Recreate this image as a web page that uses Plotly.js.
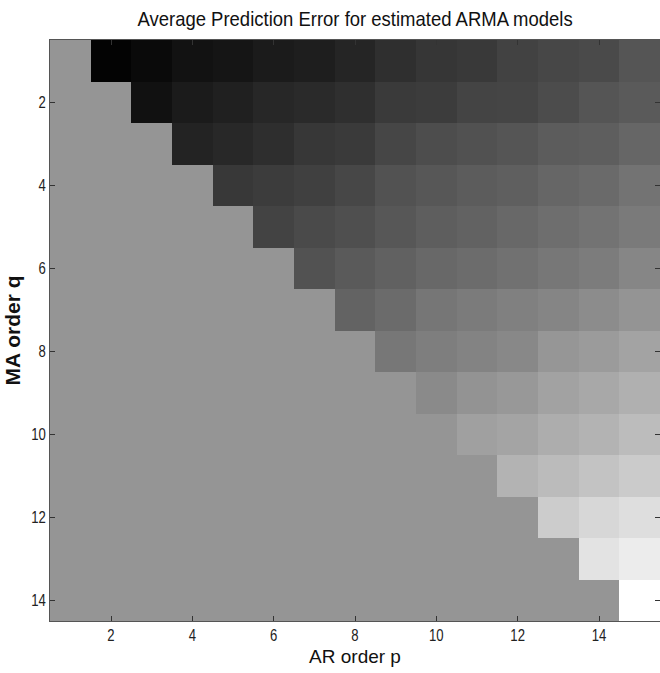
<!DOCTYPE html>
<html>
<head>
<meta charset="utf-8">
<script src="https://cdn.plot.ly/plotly-3.0.1.min.js"></script>
<style>html,body{margin:0;padding:0;overflow:hidden;background:#fff}</style>
</head>
<body>
<div id="chart" style="width:660px;height:673px"></div>
<script>
// AR order p (columns) and MA order q (rows)
const arOrders = [1,2,3,4,5,6,7,8,9,10,11,12,13,14,15];
const maOrders = [1,2,3,4,5,6,7,8,9,10,11,12,13,14];
// Average prediction error (shown as grey level, 0 = black, 255 = white); null = not estimated (p <= q)
const q1  = [null,  3, 10, 18, 21, 27, 30, 37, 47, 54, 57, 66, 71, 74, 85];
const q2  = [null,null, 17, 27, 32, 39, 42, 47, 58, 60, 68, 69, 76, 85, 90];
const q3  = [null,null,null, 35, 40, 46, 55, 58, 70, 77, 81, 85, 92, 94,102];
const q4  = [null,null,null,null, 56, 60, 64, 71, 82, 87, 92, 95,102,106,115];
const q5  = [null,null,null,null,null, 67, 74, 79, 87, 94, 98,104,110,115,122];
const q6  = [null,null,null,null,null,null, 82, 90, 97,104,108,113,119,124,134];
const q7  = [null,null,null,null,null,null,null, 99,107,118,123,128,133,140,148];
const q8  = [null,null,null,null,null,null,null,null,119,126,131,136,150,155,163];
const q9  = [null,null,null,null,null,null,null,null,null,138,147,152,162,168,176];
const q10 = [null,null,null,null,null,null,null,null,null,null,160,164,173,179,188];
const q11 = [null,null,null,null,null,null,null,null,null,null,null,179,187,195,203];
const q12 = [null,null,null,null,null,null,null,null,null,null,null,null,204,215,222];
const q13 = [null,null,null,null,null,null,null,null,null,null,null,null,null,227,236];
const q14 = [null,null,null,null,null,null,null,null,null,null,null,null,null,null,255];
const tickVals = [2,4,6,8,10,12,14];

const zRows = [q1,q2,q3,q4,q5,q6,q7,q8,q9,q10,q11,q12,q13,q14];

const sans = 'Arial, "Liberation Sans", sans-serif';

const trace = {
  type: 'heatmap',
  x: arOrders,
  y: maOrders,
  z: zRows,
  zmin: 0,
  zmax: 255,
  colorscale: [[0,'#000000'],[1,'#ffffff']],
  showscale: false,
  hoverongaps: false
};

const axisCommon = {
  ticks: 'inside',
  ticklen: 5,
  tickwidth: 1,
  tickcolor: '#333',
  showline: true,
  linecolor: '#555',
  linewidth: 1,
  mirror: 'ticks',
  showgrid: false,
  zeroline: false,
  tickvals: tickVals,
  tickfont: {family: sans, size: 16, color: '#222'}
};

const layout = {
  width: 660,
  height: 673,
  margin: {l: 50, r: 0, t: 40, b: 52},
  paper_bgcolor: '#ffffff',
  plot_bgcolor: '#959595',
  title: {
    text: 'Average Prediction Error for estimated ARMA models',
    font: {family: sans, size: 21, color: '#111'},
    x: 0.538, xanchor: 'center', y: 0.972, yanchor: 'middle'
  },
  xaxis: Object.assign({}, axisCommon, {
    range: [0.5, 15.5],
    title: {text: 'AR order p', font: {family: sans, size: 19, color: '#111'}, standoff: 6}
  }),
  yaxis: Object.assign({}, axisCommon, {
    range: [14.5, 0.5],
    title: {text: '<b>MA order q</b>', font: {family: sans, size: 21, color: '#111'}, standoff: 1}
  })
};

function condense(sel, factor) {
  document.querySelectorAll(sel).forEach(function (t) {
    const w = t.getComputedTextLength();
    t.setAttribute('textLength', (w * factor).toFixed(1));
    t.setAttribute('lengthAdjust', 'spacingAndGlyphs');
  });
}

Plotly.newPlot('chart', [trace], layout, {displayModeBar: false, staticPlot: true}).then(function () {
  condense('.gtitle', 0.88);
  condense('.xtick text, .ytick text', 0.82);
});
</script>
</body>
</html>
